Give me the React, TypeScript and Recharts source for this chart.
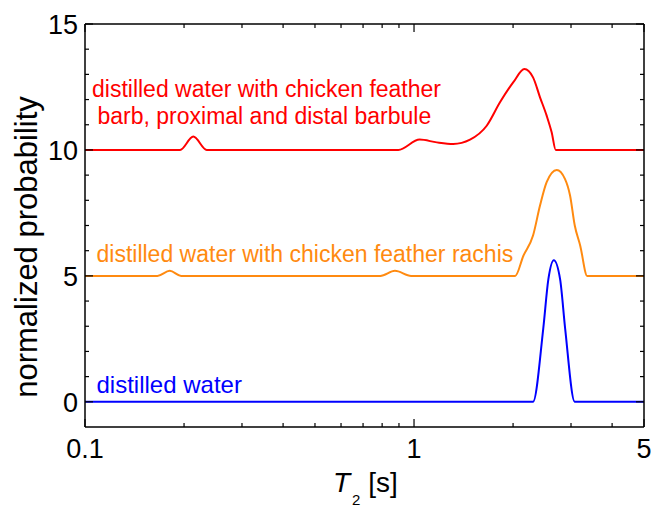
import { LineChart, Line, XAxis, YAxis, Customized } from "recharts";

// T2 [s] vs normalized probability, curves offset by 0 / 5 / 10
const water = [
  { x: 0.1, y: 0 }, { x: 2.3, y: 0 }, { x: 2.47, y: 2.9 }, { x: 2.56, y: 4.86 },
  { x: 2.66, y: 5.62 }, { x: 2.78, y: 4.86 }, { x: 2.88, y: 2.9 }, { x: 3.08, y: 0 }, { x: 5, y: 0 },
];
const rachis = [
  { x: 0.1, y: 5 }, { x: 0.166, y: 5 }, { x: 0.181, y: 5.2 }, { x: 0.196, y: 5 },
  { x: 0.79, y: 5 }, { x: 0.875, y: 5.2 }, { x: 0.98, y: 5 },
  { x: 2.03, y: 5 }, { x: 2.15, y: 5.8 }, { x: 2.3, y: 6.6 }, { x: 2.415, y: 7.79 },
  { x: 2.53, y: 8.72 }, { x: 2.715, y: 9.2 }, { x: 2.875, y: 8.85 }, { x: 2.98, y: 8.19 },
  { x: 3.08, y: 7.0 }, { x: 3.2, y: 6.2 }, { x: 3.36, y: 5 }, { x: 5, y: 5 },
];
const barbule = [
  { x: 0.1, y: 10 }, { x: 0.1945, y: 10 }, { x: 0.2134, y: 10.53 }, { x: 0.2344, y: 10 },
  { x: 0.896, y: 10 }, { x: 1.04, y: 10.41 }, { x: 1.173, y: 10.3 }, { x: 1.316, y: 10.24 },
  { x: 1.48, y: 10.41 }, { x: 1.663, y: 10.96 }, { x: 1.825, y: 11.89 }, { x: 2.004, y: 12.69 },
  { x: 2.165, y: 13.21 }, { x: 2.3, y: 12.88 }, { x: 2.415, y: 12.09 }, { x: 2.53, y: 11.36 },
  { x: 2.62, y: 10.7 }, { x: 2.696, y: 10 }, { x: 5, y: 10 },
];

const xTicks = [0.1, 0.2, 0.3, 0.4, 0.5, 0.6, 0.7, 0.8, 0.9, 1, 2, 3, 4, 5];
const xLabels = [0.1, 1, 5];
const yTicks = [0, 1, 2, 3, 4, 5, 6, 7, 8, 9, 10, 11, 12, 13, 14, 15];
const yLabels = [0, 5, 10, 15];

const FONT = "'Liberation Sans', Arial, sans-serif";

const BottomTick = (p: any) => {
  const v = p.payload.value;
  return (
    <g>
      <line x1={p.x} x2={p.x} y1={p.y} y2={p.y - (xLabels.includes(v) ? 8 : 4)} stroke="#000" strokeWidth={1.2} />
      {xLabels.includes(v) && (
        <text x={p.x} y={p.y + 31} textAnchor="middle" fontSize={27} fontFamily={FONT} fill="#000">{v}</text>
      )}
    </g>
  );
};
const TopTick = (p: any) => {
  const v = p.payload.value;
  return <line x1={p.x} x2={p.x} y1={p.y} y2={p.y + (xLabels.includes(v) ? 8 : 4)} stroke="#000" strokeWidth={1.2} />;
};
const LeftTick = (p: any) => {
  const v = p.payload.value;
  return (
    <g>
      <line x1={p.x} x2={p.x + (yLabels.includes(v) ? 8 : 4)} y1={p.y} y2={p.y} stroke="#000" strokeWidth={1.2} />
      {yLabels.includes(v) && (
        <text x={p.x - 7} y={p.y} dy="0.36em" textAnchor="end" fontSize={27} fontFamily={FONT} fill="#000">{v}</text>
      )}
    </g>
  );
};
const RightTick = (p: any) => {
  const v = p.payload.value;
  return <line x1={p.x} x2={p.x - (yLabels.includes(v) ? 8 : 4)} y1={p.y} y2={p.y} stroke="#000" strokeWidth={1.2} />;
};

const Annotations = () => (
  <g fontFamily={FONT} fontSize={23}>
    <text x={92} y={97} fill="#ff0000">distilled water with chicken feather</text>
    <text x={97.5} y={124} fill="#ff0000">barb, proximal and distal barbule</text>
    <text x={96.5} y={262} fill="#ff8a10">distilled water with chicken feather rachis</text>
    <text x={96.5} y={393} fontSize={24} fill="#0000ff">distilled water</text>
    <text x={37} y={247} transform="rotate(-90 37 247)" textAnchor="middle" fontSize={31} fill="#000">
      normalized probability
    </text>
    <text x={333} y={492} fontSize={28} fill="#000">
      <tspan fontStyle="italic">T</tspan>
      <tspan fontSize={15} dy={13} dx={2}>2</tspan>
      <tspan dy={-13}> [s]</tspan>
    </text>
  </g>
);

export default function App() {
  return (
    <div style={{ position: "absolute", left: 0, top: 0, width: 654, height: 508 }}>
      <LineChart width={654} height={508} margin={{ top: 23, right: 9, left: 0, bottom: 0 }}>
        <XAxis
          dataKey="x" type="number" scale="log" domain={[0.1, 5]} allowDataOverflow
          ticks={xTicks} interval={0} tick={BottomTick} tickLine={false} tickSize={0} tickMargin={0}
          height={81} axisLine={{ stroke: "#000", strokeWidth: 1.5 }}
        />
        <XAxis
          xAxisId="top" orientation="top" dataKey="x" type="number" scale="log" domain={[0.1, 5]} allowDataOverflow
          ticks={xTicks} interval={0} tick={TopTick} tickLine={false} tickSize={0} tickMargin={0}
          height={1} axisLine={{ stroke: "#000", strokeWidth: 1.5 }}
        />
        <YAxis
          type="number" domain={[-1, 15]} allowDataOverflow ticks={yTicks} interval={0}
          tick={LeftTick} tickLine={false} tickSize={0} tickMargin={0} width={85}
          axisLine={{ stroke: "#000", strokeWidth: 1.5 }}
        />
        <YAxis
          yAxisId="right" orientation="right" type="number" domain={[-1, 15]} allowDataOverflow ticks={yTicks} interval={0}
          tick={RightTick} tickLine={false} tickSize={0} tickMargin={0} width={1}
          axisLine={{ stroke: "#000", strokeWidth: 1.5 }}
        />
        <Line data={water} dataKey="y" type="monotone" stroke="#0000ff" strokeWidth={2} dot={false} isAnimationActive={false} />
        <Line data={rachis} dataKey="y" type="monotone" stroke="#ff8a10" strokeWidth={2} dot={false} isAnimationActive={false} />
        <Line data={barbule} dataKey="y" type="monotone" stroke="#ff0000" strokeWidth={2} dot={false} isAnimationActive={false} />
        <Customized component={Annotations} />
      </LineChart>
    </div>
  );
}
